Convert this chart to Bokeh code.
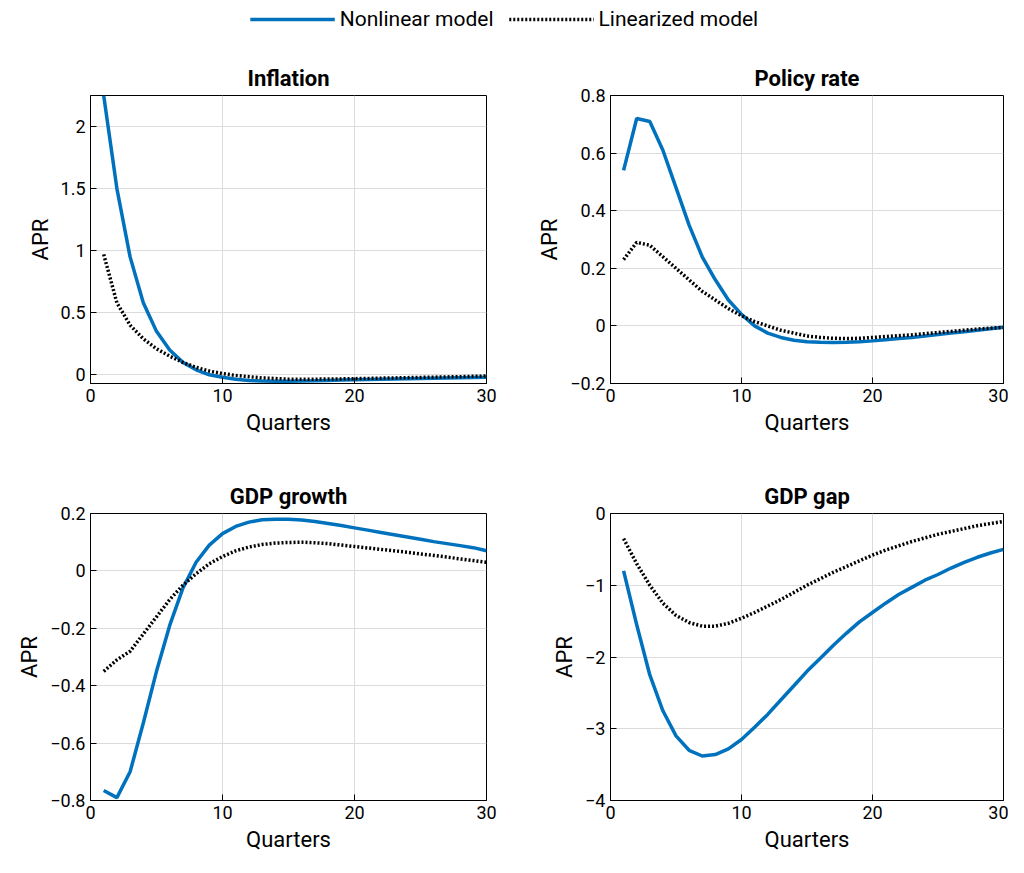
from bokeh.plotting import figure
from bokeh.layouts import column, gridplot
from bokeh.models import FixedTicker, Legend, LegendItem, Range1d
from bokeh.embed import file_html
from bokeh.resources import INLINE

quarters = list(range(1, 31))

infl_nl = [2.25, 1.5, 0.95, 0.58, 0.35, 0.2, 0.1, 0.04, 0.0, -0.02, -0.035, -0.045, -0.05, -0.052, -0.052,
           -0.05, -0.048, -0.045, -0.042, -0.04, -0.038, -0.036, -0.034, -0.032, -0.03, -0.028, -0.026, -0.024, -0.022, -0.02]
infl_lin = [0.97, 0.58, 0.4, 0.29, 0.21, 0.15, 0.1, 0.06, 0.03, 0.01, -0.005, -0.015, -0.025, -0.03, -0.035,
            -0.035, -0.035, -0.034, -0.033, -0.031, -0.029, -0.027, -0.025, -0.023, -0.021, -0.019, -0.017, -0.015, -0.012, -0.01]
rate_nl = [0.54, 0.72, 0.71, 0.61, 0.48, 0.35, 0.24, 0.16, 0.09, 0.04, 0.0, -0.025, -0.04, -0.05, -0.055,
           -0.057, -0.058, -0.057, -0.055, -0.052, -0.048, -0.044, -0.04, -0.035, -0.03, -0.025, -0.02, -0.015, -0.01, -0.005]
rate_lin = [0.23, 0.29, 0.28, 0.24, 0.2, 0.16, 0.12, 0.09, 0.06, 0.035, 0.015, 0.0, -0.015, -0.025, -0.035,
            -0.04, -0.043, -0.044, -0.043, -0.04, -0.037, -0.034, -0.031, -0.027, -0.023, -0.019, -0.015, -0.011, -0.008, -0.005]
growth_nl = [-0.765, -0.79, -0.7, -0.53, -0.35, -0.19, -0.06, 0.03, 0.09, 0.13, 0.155, 0.17, 0.178, 0.18, 0.18,
             0.177, 0.172, 0.165, 0.158, 0.15, 0.142, 0.134, 0.126, 0.118, 0.11, 0.102, 0.095, 0.088, 0.081, 0.07]
growth_lin = [-0.35, -0.31, -0.28, -0.22, -0.16, -0.1, -0.05, -0.01, 0.025, 0.05, 0.07, 0.083, 0.092, 0.097, 0.099,
              0.1, 0.098, 0.095, 0.09, 0.085, 0.08, 0.075, 0.07, 0.065, 0.059, 0.054, 0.048, 0.042, 0.036, 0.03]
gap_nl = [-0.8, -1.55, -2.25, -2.75, -3.1, -3.3, -3.38, -3.36, -3.28, -3.15, -2.98, -2.8, -2.6, -2.4, -2.2,
          -2.02, -1.84, -1.67, -1.51, -1.38, -1.25, -1.13, -1.03, -0.93, -0.85, -0.76, -0.68, -0.61, -0.55, -0.5]
gap_lin = [-0.35, -0.7, -1.0, -1.25, -1.42, -1.52, -1.57, -1.57, -1.53, -1.46, -1.38, -1.29, -1.2, -1.1, -1.0,
           -0.91, -0.82, -0.74, -0.66, -0.58, -0.51, -0.45, -0.39, -0.34, -0.29, -0.25, -0.21, -0.17, -0.14, -0.11]

legend_labels = ["Nonlinear model", "Linearized model"]

BLUE = "#0072BD"
FONT = "Roboto"


def panel(title, nl, lin, yr, yticks, borders, w, h):
    p = figure(width=w, height=h, output_backend="svg", toolbar_location=None,
               x_range=Range1d(0, 30), y_range=Range1d(*yr),
               min_border_left=borders[0], min_border_right=borders[1],
               min_border_top=borders[2], min_border_bottom=borders[3])
    p.title.text = title
    p.title.align = "center"
    p.title.text_font = FONT
    p.title.text_font_size = "22px"
    p.title.text_font_style = "bold"
    p.title.text_color = "black"
    p.outline_line_color = "black"
    p.outline_line_width = 1
    p.xaxis.axis_label = "Quarters"
    p.yaxis.axis_label = "APR"
    p.xaxis.ticker = FixedTicker(ticks=[0, 10, 20, 30])
    p.yaxis.ticker = FixedTicker(ticks=yticks)
    for ax in (p.xaxis, p.yaxis):
        ax.axis_label_text_font = FONT
        ax.axis_label_text_font_size = "22px"
        ax.axis_label_text_font_style = "normal"
        ax.axis_label_text_color = "black"
        ax.major_label_text_font = FONT
        ax.major_label_text_font_size = "18px"
        ax.major_label_text_color = "black"
        ax.major_tick_in = 6
        ax.major_tick_out = 0
        ax.minor_tick_line_color = None
        ax.axis_line_color = "black"
    p.grid.grid_line_color = "#dcdcdc"
    p.line(quarters, nl, line_color=BLUE, line_width=3.5)
    p.line(quarters, lin, line_color="black", line_width=3.5, line_dash="2 2")
    return p


p1 = panel("Inflation", infl_nl, infl_lin, (-0.07, 2.25), [0, 0.5, 1, 1.5, 2], (90, 26, 50, 80), 512, 418)
p2 = panel("Policy rate", rate_nl, rate_lin, (-0.2, 0.8), [-0.2, 0, 0.2, 0.4, 0.6, 0.8], (98, 5, 50, 80), 496, 418)
p3 = panel("GDP growth", growth_nl, growth_lin, (-0.8, 0.2), [-0.8, -0.6, -0.4, -0.2, 0, 0.2], (90, 26, 50, 65), 512, 402)
p4 = panel("GDP gap", gap_nl, gap_lin, (-4, 0), [-4, -3, -2, -1, 0], (98, 5, 50, 65), 496, 402)

leg = figure(width=1008, height=45, output_backend="svg", toolbar_location=None,
             x_range=Range1d(0, 1), y_range=Range1d(0, 1), min_border=0)
leg.axis.visible = False
leg.grid.visible = False
leg.outline_line_color = None
r1 = leg.line([5, 6], [5, 6], line_color=BLUE, line_width=3.5)
r2 = leg.line([5, 6], [5, 6], line_color="black", line_width=3.5, line_dash="2 2")
legend = Legend(items=[LegendItem(label=legend_labels[0], renderers=[r1]),
                       LegendItem(label=legend_labels[1], renderers=[r2])],
                orientation="horizontal", location="top_center", border_line_color=None,
                label_text_font=FONT, label_text_font_size="21px", label_text_color="black",
                glyph_width=85, spacing=15, background_fill_alpha=0, margin=7, padding=2)
leg.add_layout(legend, "center")

grid = gridplot([[p1, p2], [p3, p4]], toolbar_location=None)
p = column(leg, grid, spacing=0)

open("out.html", "w").write(file_html(p, INLINE))
